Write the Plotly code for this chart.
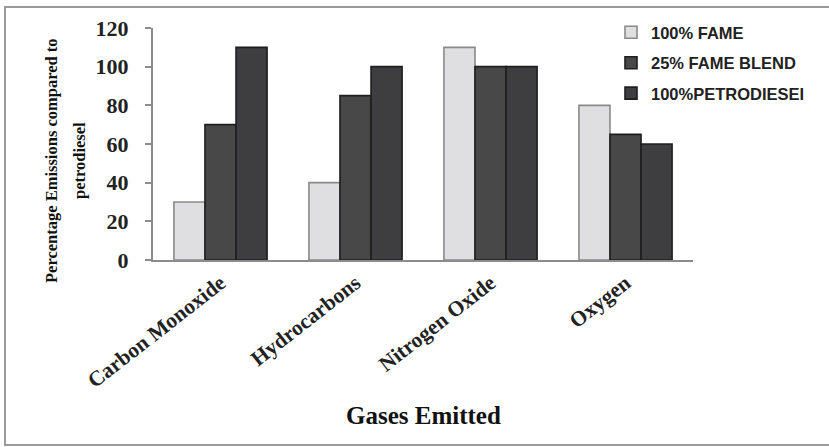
import plotly.graph_objects as go

# Emission data relative to petrodiesel (%)
gases = ["Carbon Monoxide", "Hydrocarbons", "Nitrogen Oxide", "Oxygen"]
fame_100 = [30, 40, 110, 80]
fame_blend_25 = [70, 85, 100, 65]
petrodiesel_100 = [110, 100, 100, 60]
y_ticks = [0, 20, 40, 60, 80, 100, 120]

W, H = 829, 447
L, R, T, B = 153, 693, 28, 260  # plot area in pixels

series = [
    ("100% FAME", fame_100, "#dfdfe1", "#8a8a8a"),
    ("25% FAME BLEND", fame_blend_25, "#484848", "#1e1e1e"),
    ("100%PETRODIESEI", petrodiesel_100, "#3e3e40", "#1e1e1e"),
]

fig = go.Figure()
for name, vals, fill, edge in series:
    fig.add_trace(go.Bar(
        x=gases, y=vals, name=name, legendgroup=name,
        marker=dict(color=fill, line=dict(color=edge, width=1.6)),
    ))

serif = "Liberation Serif"

def px_x(p):
    return (p - L) / (R - L)

def px_y(p):
    return (B - p) / (B - T)

title_font = dict(family=serif, size=16.5, color="#111", weight="bold")

fig.update_layout(
    width=W, height=H,
    margin=dict(l=L, r=W - R, t=T, b=H - B, autoexpand=False),
    paper_bgcolor="white", plot_bgcolor="white",
    barmode="group", bargap=0.31, bargroupgap=0,
    showlegend=True,
    legend=dict(
        x=px_x(611), y=px_y(15), xanchor="left", yanchor="top",
        font=dict(family="Liberation Sans", size=16.5, color="#222", weight="bold"),
        bgcolor="rgba(0,0,0,0)", tracegroupgap=6, itemwidth=30,
    ),
    xaxis=dict(
        showline=True, linecolor="#8c8c8c", linewidth=2,
        ticks="", tickangle=-38,
        tickfont=dict(family=serif, size=21.5, color="#222", weight="bold"),
    ),
    yaxis=dict(
        range=[0, 120], tickvals=y_ticks,
        showline=True, linecolor="#8c8c8c", linewidth=2,
        ticks="outside", ticklen=6, tickcolor="#8c8c8c", tickwidth=2,
        ticklabelstandoff=12,
        showgrid=False, zeroline=False,
        tickfont=dict(family=serif, size=22, color="#222", weight="bold"),
    ),
    annotations=[
        dict(text="Gases Emitted", xref="paper", yref="paper",
             x=0.5, y=px_y(415), xanchor="center", yanchor="middle", showarrow=False,
             font=dict(family=serif, size=25, color="#111", weight="bold")),
        dict(text="Percentage Emissions compared to", xref="paper", yref="paper",
             x=px_x(51), y=px_y(161), xanchor="center", yanchor="middle",
             textangle=-90, showarrow=False, font=title_font),
        dict(text="petrodiesel", xref="paper", yref="paper",
             x=px_x(79), y=px_y(161), xanchor="center", yanchor="middle",
             textangle=-90, showarrow=False, font=title_font),
    ],
    shapes=[dict(
        type="rect", xref="paper", yref="paper",
        x0=px_x(5), x1=px_x(845), y0=px_y(445), y1=px_y(7),
        line=dict(color="#9a9a9a", width=2), fillcolor="rgba(0,0,0,0)", layer="below",
    )],
)

fig.write_html("out.html")
